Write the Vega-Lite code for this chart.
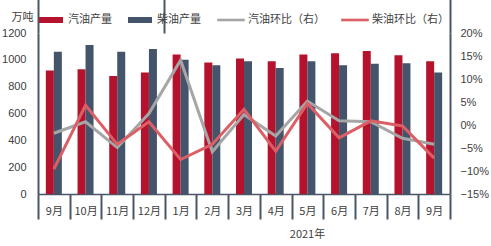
{
  "$schema": "https://vega.github.io/schema/vega-lite/v6.json",
  "width": 412,
  "height": 161,
  "autosize": {"type": "none"},
  "padding": {"left": 38, "top": 33, "right": 41, "bottom": 52},
  "background": "white",
  "config": {"view": {"stroke": null}, "font": "Noto Sans CJK SC"},
  "datasets": {
    "bars": [
      {"key": "2020-9", "series": "汽油产量", "value": 920},
      {"key": "2020-9", "series": "柴油产量", "value": 1060},
      {"key": "2020-10", "series": "汽油产量", "value": 930},
      {"key": "2020-10", "series": "柴油产量", "value": 1110},
      {"key": "2020-11", "series": "汽油产量", "value": 880},
      {"key": "2020-11", "series": "柴油产量", "value": 1060},
      {"key": "2020-12", "series": "汽油产量", "value": 905},
      {"key": "2020-12", "series": "柴油产量", "value": 1080},
      {"key": "2021-1", "series": "汽油产量", "value": 1040},
      {"key": "2021-1", "series": "柴油产量", "value": 1000},
      {"key": "2021-2", "series": "汽油产量", "value": 980},
      {"key": "2021-2", "series": "柴油产量", "value": 960},
      {"key": "2021-3", "series": "汽油产量", "value": 1010},
      {"key": "2021-3", "series": "柴油产量", "value": 990},
      {"key": "2021-4", "series": "汽油产量", "value": 990},
      {"key": "2021-4", "series": "柴油产量", "value": 940},
      {"key": "2021-5", "series": "汽油产量", "value": 1040},
      {"key": "2021-5", "series": "柴油产量", "value": 990},
      {"key": "2021-6", "series": "汽油产量", "value": 1050},
      {"key": "2021-6", "series": "柴油产量", "value": 960},
      {"key": "2021-7", "series": "汽油产量", "value": 1065},
      {"key": "2021-7", "series": "柴油产量", "value": 970},
      {"key": "2021-8", "series": "汽油产量", "value": 1035},
      {"key": "2021-8", "series": "柴油产量", "value": 975},
      {"key": "2021-9", "series": "汽油产量", "value": 990},
      {"key": "2021-9", "series": "柴油产量", "value": 905}
    ],
    "gas": [
      {"key": "2020-9", "series": "汽油环比（右）", "pct": -0.018},
      {"key": "2020-10", "series": "汽油环比（右）", "pct": 0.007},
      {"key": "2020-11", "series": "汽油环比（右）", "pct": -0.049},
      {"key": "2020-12", "series": "汽油环比（右）", "pct": 0.025},
      {"key": "2021-1", "series": "汽油环比（右）", "pct": 0.141},
      {"key": "2021-2", "series": "汽油环比（右）", "pct": -0.058},
      {"key": "2021-3", "series": "汽油环比（右）", "pct": 0.023},
      {"key": "2021-4", "series": "汽油环比（右）", "pct": -0.024},
      {"key": "2021-5", "series": "汽油环比（右）", "pct": 0.052},
      {"key": "2021-6", "series": "汽油环比（右）", "pct": 0.009},
      {"key": "2021-7", "series": "汽油环比（右）", "pct": 0.007},
      {"key": "2021-8", "series": "汽油环比（右）", "pct": -0.029},
      {"key": "2021-9", "series": "汽油环比（右）", "pct": -0.042}
    ],
    "diesel": [
      {"key": "2020-9", "series": "柴油环比（右）", "pct": -0.096},
      {"key": "2020-10", "series": "柴油环比（右）", "pct": 0.043},
      {"key": "2020-11", "series": "柴油环比（右）", "pct": -0.042},
      {"key": "2020-12", "series": "柴油环比（右）", "pct": 0.007},
      {"key": "2021-1", "series": "柴油环比（右）", "pct": -0.075},
      {"key": "2021-2", "series": "柴油环比（右）", "pct": -0.042},
      {"key": "2021-3", "series": "柴油环比（右）", "pct": 0.034},
      {"key": "2021-4", "series": "柴油环比（右）", "pct": -0.057},
      {"key": "2021-5", "series": "柴油环比（右）", "pct": 0.047},
      {"key": "2021-6", "series": "柴油环比（右）", "pct": -0.028},
      {"key": "2021-7", "series": "柴油环比（右）", "pct": 0.009},
      {"key": "2021-8", "series": "柴油环比（右）", "pct": -0.002},
      {"key": "2021-9", "series": "柴油环比（右）", "pct": -0.072}
    ]
  },
  "layer": [
    {
      "data": {"name": "bars"},
      "mark": {"type": "bar"},
      "encoding": {
        "x": {
          "field": "key",
          "type": "ordinal",
          "sort": null,
          "scale": {"paddingInner": 0, "paddingOuter": 0},
          "axis": {
            "title": "2021年",
            "titleX": 269,
            "titleY": 40,
            "titleAlign": "center",
            "titleBaseline": "middle",
            "titleFont": "Noto Sans CJK SC",
            "titleFontSize": 11,
            "titleFontWeight": "normal",
            "titleColor": "#404040",
            "labelExpr": "isString(datum.value) ? split(datum.value, '-')[1] + '月' : ''",
            "labelAngle": 0,
            "labelFont": "Noto Sans CJK SC",
            "labelFontSize": 11,
            "labelColor": "#404040",
            "labelBaseline": "middle",
            "labelPadding": -8,
            "tickBand": "extent",
            "tickColor": "#4A5566",
            "tickWidth": 2,
            "tickSize": 25,
            "domainColor": "#4A5566",
            "domainWidth": 1.5
          }
        },
        "xOffset": {
          "field": "series",
          "type": "nominal",
          "sort": ["汽油产量", "柴油产量"],
          "scale": {"paddingInner": 0, "paddingOuter": 0.98}
        },
        "y": {
          "field": "value",
          "type": "quantitative",
          "scale": {"domain": [0, 1200]},
          "axis": {
            "values": [0, 200, 400, 600, 800, 1000, 1200],
            "format": "d",
            "grid": false,
            "ticks": false,
            "labelPadding": 12,
            "labelFont": "Liberation Sans",
            "labelFontSize": 11,
            "labelColor": "#404040",
            "domainColor": "#4A5566",
            "domainWidth": 2,
            "title": "万吨",
            "titleAngle": 0,
            "titleX": -16,
            "titleY": -16,
            "titleAlign": "center",
            "titleBaseline": "middle",
            "titleFont": "Noto Sans CJK SC",
            "titleFontSize": 11,
            "titleFontWeight": "normal",
            "titleColor": "#404040"
          }
        },
        "color": {
          "field": "series",
          "type": "nominal",
          "scale": {
            "domain": ["汽油产量", "柴油产量", "汽油环比（右）", "柴油环比（右）"],
            "range": ["#B5122E", "#44546A", "#A6A6A6", "#DC5F66"]
          },
          "legend": {
            "orient": "none",
            "legendX": 1,
            "legendY": -25,
            "direction": "horizontal",
            "title": null,
            "labelFont": "Noto Sans CJK SC",
            "labelFontSize": 11,
            "labelColor": "#404040",
            "symbolSize": 576,
            "labelOffset": 5,
            "columnPadding": 16,
            "symbolStrokeWidth": 0,
            "encode": {
              "symbols": {
                "update": {
                  "shape": {"signal": "(datum.value == '汽油产量' || datum.value == '柴油产量') ? 'M-1,-0.25H1V0.25H-1Z' : 'M-1.15,-0.11H1.15V0.11H-1.15Z'"},
                  "fill": {"scale": "color", "field": "value"},
                  "opacity": {"value": 1}
                }
              }
            }
          }
        }
      }
    },
    {
      "data": {"name": "gas"},
      "mark": {"type": "line", "strokeWidth": 3},
      "encoding": {
        "x": {
          "field": "key",
          "type": "ordinal",
          "sort": null,
          "axis": {
            "values": ["2020-12", "2021-9"],
            "bandPosition": 1,
            "tickSize": 52,
            "tickWidth": 2,
            "tickColor": "#4A5566",
            "labels": false,
            "domain": false,
            "title": null
          }
        },
        "y": {
          "field": "pct",
          "type": "quantitative",
          "scale": {"domain": [-0.15, 0.2]},
          "axis": {
            "orient": "right",
            "values": [-0.15, -0.1, -0.05, 0, 0.05, 0.1, 0.15, 0.2],
            "format": ".0%",
            "grid": false,
            "ticks": false,
            "labelPadding": 10,
            "labelFont": "Liberation Sans",
            "labelFontSize": 11,
            "labelColor": "#404040",
            "domainColor": "#4A5566",
            "domainWidth": 2,
            "title": null
          }
        },
        "color": {"field": "series", "type": "nominal"}
      }
    },
    {
      "data": {"name": "diesel"},
      "mark": {"type": "line", "strokeWidth": 3},
      "encoding": {
        "x": {
          "field": "key",
          "type": "ordinal",
          "sort": null,
          "axis": {
            "values": ["2020-9"],
            "bandPosition": 0,
            "tickSize": 52,
            "tickWidth": 2,
            "tickColor": "#4A5566",
            "labels": false,
            "domain": false,
            "title": null
          }
        },
        "y": {
          "field": "pct",
          "type": "quantitative",
          "scale": {"domain": [-0.15, 0.2]},
          "axis": null
        },
        "color": {"field": "series", "type": "nominal"}
      }
    }
  ],
  "resolve": {"scale": {"y": "independent"}, "axis": {"x": "independent"}}
}
